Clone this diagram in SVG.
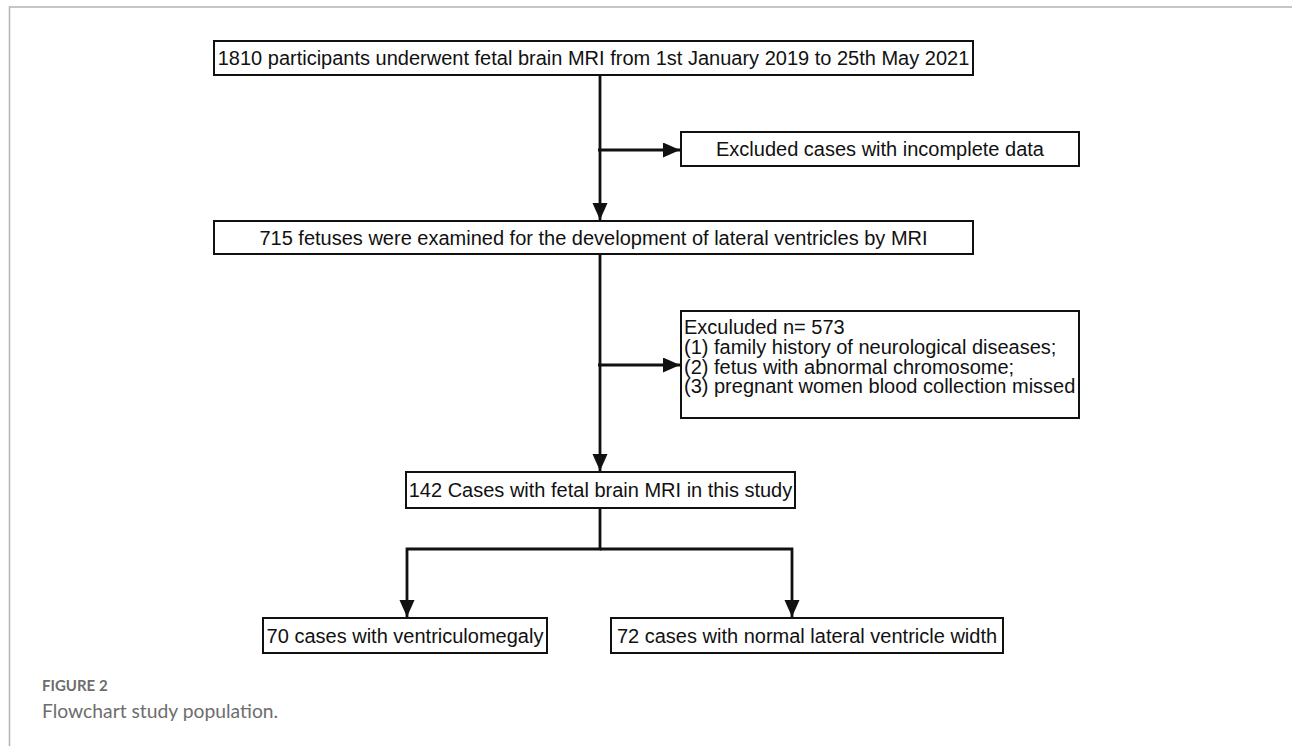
<svg xmlns="http://www.w3.org/2000/svg" width="1292" height="746" viewBox="0 0 1292 746">
<style>
.box{fill:#fff;stroke:#111;stroke-width:2}
.t{font-family:"Liberation Sans",Arial,sans-serif;font-size:20px;fill:#111}
.c{stroke:#111;stroke-width:2.8;fill:none}
.cap1{font-family:Lato,"Open Sans",sans-serif;font-size:15px;font-weight:bold;fill:#6d6d6d}
.cap2{font-family:Lato,"Open Sans",sans-serif;font-size:19.3px;fill:#6d6d6d}
</style>
<defs>
<marker id="ah" markerUnits="userSpaceOnUse" markerWidth="18" markerHeight="16" refX="17" refY="7.5" orient="auto">
<path d="M0,0 L17,7.5 L0,15 z" fill="#111"/>
</marker>
</defs>
<rect x="0" y="0" width="1292" height="746" fill="#fff"/>
<path d="M9.5,746 V7 H1292" fill="none" stroke="#b3b3b3" stroke-width="1.5"/>

<g id="connectors">
<line class="c" x1="600" y1="75" x2="600" y2="220" marker-end="url(#ah)"/>
<line class="c" x1="598" y1="150" x2="680" y2="150" marker-end="url(#ah)"/>
<line class="c" x1="600" y1="254" x2="600" y2="471" marker-end="url(#ah)"/>
<line class="c" x1="598" y1="365" x2="680" y2="365" marker-end="url(#ah)"/>
<polyline class="c" points="600,508 600,549 407,549 407,617" marker-end="url(#ah)"/>
<polyline class="c" points="600,549 792,549 792,617" marker-end="url(#ah)"/>
</g>

<g id="n1">
<rect class="box" x="214" y="41" width="759" height="34"/>
<text class="t" x="593.5" y="65" text-anchor="middle">1810 participants underwent fetal brain MRI from 1st January 2019 to 25th May 2021</text>
</g>
<g id="n2">
<rect class="box" x="681" y="132" width="398" height="34"/>
<text class="t" x="880" y="156" text-anchor="middle">Excluded cases with incomplete data</text>
</g>
<g id="n3">
<rect class="box" x="214" y="221" width="759" height="33"/>
<text class="t" x="593.5" y="245" text-anchor="middle">715 fetuses were examined for the development of lateral ventricles by MRI</text>
</g>
<g id="n4">
<rect class="box" x="681" y="311" width="398" height="107"/>
<text class="t" x="684" y="334">Exculuded n= 573</text>
<text class="t" x="684" y="354">(1) family history of neurological diseases;</text>
<text class="t" x="684" y="373.5">(2) fetus with abnormal chromosome;</text>
<text class="t" x="684" y="393">(3) pregnant women blood collection missed</text>
</g>
<g id="n5">
<rect class="box" x="406" y="472" width="389" height="36"/>
<text class="t" x="600.5" y="497" text-anchor="middle">142 Cases with fetal brain MRI in this study</text>
</g>
<g id="n6">
<rect class="box" x="263" y="618" width="284" height="35"/>
<text class="t" x="405" y="642.5" text-anchor="middle">70 cases with ventriculomegaly</text>
</g>
<g id="n7">
<rect class="box" x="611" y="618" width="392" height="35"/>
<text class="t" x="807" y="642.5" text-anchor="middle">72 cases with normal lateral ventricle width</text>
</g>

<g id="caption">
<text class="cap1" x="42" y="691">FIGURE 2</text>
<text class="cap2" x="42" y="718">Flowchart study population.</text>
</g>
</svg>
